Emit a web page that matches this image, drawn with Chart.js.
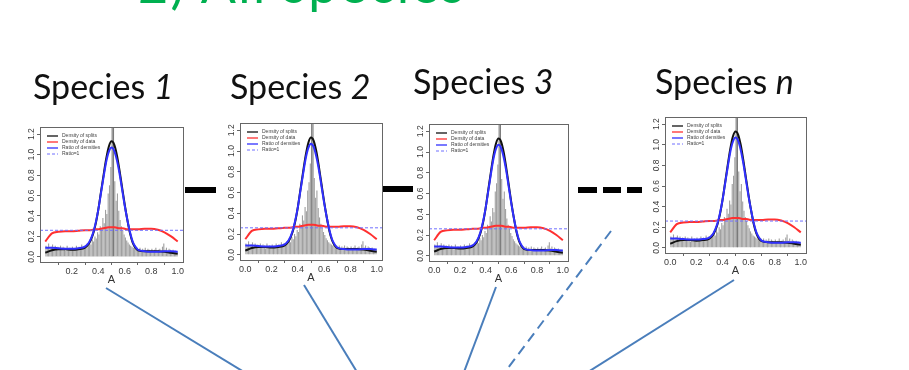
<!DOCTYPE html>
<html><head><meta charset="utf-8">
<script src="https://cdn.jsdelivr.net/npm/chart.js@4.4.1/dist/chart.umd.min.js"></script>
<style>
html,body{margin:0;padding:0;background:#fff;}
#slide{position:relative;width:909px;height:370px;overflow:hidden;background:#fff;}
canvas{position:absolute;}
svg{position:absolute;left:0;top:0;}
</style></head>
<body>
<div id="slide">
<svg id="deco" width="909" height="370" xmlns="http://www.w3.org/2000/svg">
  <text x="138" y="3" font-family="Lato, 'Open Sans', sans-serif" font-size="52" fill="#00B050" textLength="326" lengthAdjust="spacing">2) All species</text>
  <g font-family="Lato, 'Open Sans', sans-serif" font-size="34" fill="#111">
    <text x="33" y="99">Species <tspan font-style="italic">1</tspan></text>
    <text x="230" y="99">Species <tspan font-style="italic">2</tspan></text>
    <text x="413" y="94">Species <tspan font-style="italic">3</tspan></text>
    <text x="655" y="94">Species <tspan font-style="italic">n</tspan></text>
  </g>
  <g fill="#000">
    <rect x="185" y="187" width="31" height="6"/>
    <rect x="383" y="186" width="30" height="6"/>
    <rect x="578" y="187" width="19" height="6"/>
    <rect x="603" y="187" width="18" height="6"/>
    <rect x="627" y="187" width="15" height="6"/>
  </g>
  <g stroke="#4A7EBB" stroke-width="2" fill="none">
    <line x1="106" y1="288" x2="244" y2="372"/>
    <line x1="304" y1="285" x2="357" y2="372"/>
    <line x1="496" y1="287" x2="464" y2="372"/>
    <line x1="611" y1="231" x2="505" y2="372" stroke-dasharray="10 6"/>
    <line x1="734" y1="280" x2="588" y2="372"/>
  </g>
</svg>
</div>
<script>
// ---- data ----
const xTicks = [0, 0.2, 0.4, 0.6, 0.8, 1.0];
const yTicks = [0, 0.2, 0.4, 0.6, 0.8, 1.0, 1.2];
const histCounts = [
  0.11,0.09,0.13,0.08,0.10,0.12,0.07,0.11,0.09,0.10,
  0.08,0.11,0.07,0.10,0.09,0.06,0.11,0.08,0.09,0.07,
  0.10,0.08,0.09,0.11,0.07,0.10,0.08,0.12,0.09,0.11,
  0.10,0.13,0.11,0.14,0.12,0.17,0.15,0.20,0.18,0.24,
  0.22,0.30,0.27,0.38,0.33,0.46,0.42,0.62,0.70,0.88,
  1.60,1.45,0.74,0.55,0.62,0.45,0.36,0.30,0.26,0.22,
  0.19,0.16,0.14,0.12,0.11,0.10,0.09,0.10,0.08,0.09,
  0.07,0.09,0.06,0.08,0.07,0.09,0.06,0.08,0.07,0.06,
  0.08,0.06,0.07,0.09,0.06,0.07,0.08,0.06,0.10,0.13,
  0.07,0.09,0.06,0.08,0.07,0.06,0.07,0.05,0.06,0.05
];
const lineX = [0,0.05,0.1,0.15,0.2,0.25,0.3,0.33,0.36,0.38,0.40,0.42,0.44,0.46,0.48,0.50,0.52,0.54,0.56,0.58,0.60,0.62,0.64,0.66,0.68,0.70,0.75,0.8,0.85,0.9,0.95,1.0];
const densitySplits = [0.04,0.065,0.075,0.075,0.07,0.075,0.09,0.13,0.22,0.32,0.46,0.63,0.80,0.96,1.08,1.13,1.10,1.00,0.85,0.68,0.51,0.36,0.23,0.14,0.09,0.065,0.055,0.055,0.055,0.05,0.04,0.03];
const densityData   = [0.15,0.23,0.245,0.25,0.25,0.255,0.26,0.26,0.265,0.27,0.27,0.275,0.28,0.285,0.29,0.29,0.29,0.285,0.28,0.28,0.275,0.27,0.27,0.27,0.27,0.27,0.275,0.275,0.265,0.24,0.20,0.15];
const ratioDensities= [0.09,0.09,0.085,0.08,0.08,0.085,0.10,0.14,0.23,0.33,0.46,0.62,0.78,0.93,1.03,1.07,1.04,0.95,0.82,0.66,0.50,0.36,0.24,0.15,0.10,0.07,0.055,0.05,0.05,0.055,0.055,0.05];
const ratioOne = 0.26;
const legendLabels = ['Density of splits', 'Density of data', 'Ratio of densities', 'Ratio=1'];

// ---- layout (plot boxes) ----
const X_MIN = -0.04, X_MAX = 1.04, Y_MIN = -0.05, Y_MAX = 1.27;
const Y_AXIS_W = 15, X_AXIS_H = 25, PAD_T = 3, PAD_R = 3;
const FONT = '"Liberation Sans", Arial, sans-serif';
const panels = [
  {box: [40, 127, 143, 135], hideZero: true},
  {box: [240, 123, 142, 137], hideZero: false},
  {box: [429, 124, 139, 137], hideZero: false},
  {box: [665, 117, 141, 136], hideZero: false}
];

const rStyle = {
  id: 'rStyle',
  afterDatasetsDraw(chart) {
    const ctx = chart.ctx, a = chart.chartArea;
    ctx.save();
    ctx.strokeStyle = '#666';
    ctx.lineWidth = 1;
    ctx.strokeRect(Math.round(a.left) + 0.5, Math.round(a.top) + 0.5, Math.round(a.right - a.left), Math.round(a.bottom - a.top));
    // y tick labels, rotated like R
    const ys = chart.scales.y;
    ctx.fillStyle = '#3a3a3a';
    ctx.font = '8.5px ' + FONT;
    ctx.textAlign = 'center';
    ctx.textBaseline = 'middle';
    yTicks.forEach(v => {
      const py = ys.getPixelForValue(v);
      ctx.save();
      ctx.translate(a.left - 8.5, py);
      ctx.rotate(-Math.PI / 2);
      ctx.fillText(v.toFixed(1), 0, 0);
      ctx.restore();
    });
    // legend (top-left inside the box)
    ctx.font = '5px ' + FONT;
    ctx.textAlign = 'left';
    const items = chart.data.datasets.filter(d => d.label);
    items.sort((p, q) => legendLabels.indexOf(p.label) - legendLabels.indexOf(q.label));
    items.forEach((d, i) => {
      const y = a.top + 9 + i * 6;
      ctx.beginPath();
      ctx.strokeStyle = d.borderColor;
      ctx.lineWidth = d.borderDash ? 1 : 1.3;
      ctx.setLineDash(d.borderDash || []);
      ctx.moveTo(a.left + 7, y);
      ctx.lineTo(a.left + 18, y);
      ctx.stroke();
      ctx.setLineDash([]);
      ctx.fillStyle = '#444';
      ctx.fillText(d.label, a.left + 22, y);
    });
    ctx.restore();
  }
};

function toXY(xs, ys) { return xs.map((x, i) => ({x: x, y: ys[i]})); }

panels.forEach((p, idx) => {
  const [bx, by, bw, bh] = p.box;
  const cv = document.createElement('canvas');
  const W = Y_AXIS_W + bw + PAD_R, H = PAD_T + bh + X_AXIS_H;
  cv.width = W; cv.height = H;
  cv.style.left = (bx - Y_AXIS_W) + 'px';
  cv.style.top = (by - PAD_T) + 'px';
  cv.style.width = W + 'px'; cv.style.height = H + 'px';
  document.getElementById('slide').insertBefore(cv, document.getElementById('deco'));

  new Chart(cv, {
    type: 'bar',
    data: {
      datasets: [
        {type: 'line', label: legendLabels[3], data: [{x: X_MIN, y: ratioOne}, {x: X_MAX, y: ratioOne}],
         borderColor: '#6f6fff', borderWidth: 1, borderDash: [3, 2], pointRadius: 0, order: 0},
        {type: 'line', label: legendLabels[2], data: toXY(lineX, ratioDensities),
         borderColor: '#3030ff', borderWidth: 2, pointRadius: 0, cubicInterpolationMode: 'monotone', order: 1},
        {type: 'line', label: legendLabels[1], data: toXY(lineX, densityData),
         borderColor: '#ff3030', borderWidth: 2, pointRadius: 0, cubicInterpolationMode: 'monotone', order: 2},
        {type: 'line', label: legendLabels[0], data: toXY(lineX, densitySplits),
         borderColor: '#111111', borderWidth: 2, pointRadius: 0, cubicInterpolationMode: 'monotone', order: 3},
        {type: 'bar', data: histCounts.map((c, i) => ({x: (i + 0.5) / histCounts.length, y: c})),
         backgroundColor: c => (c.raw && c.raw.y > Y_MAX) ? '#7a7a7a' : '#a0a0a0',
         borderWidth: 0, barPercentage: 1, categoryPercentage: 0.85, order: 10}
      ]
    },
    options: {
      responsive: false,
      animation: false,
      devicePixelRatio: 1,
      layout: {padding: {left: 0, top: PAD_T, right: PAD_R, bottom: 0}},
      plugins: {legend: {display: false}, tooltip: {enabled: false}},
      scales: {
        x: {
          type: 'linear', min: X_MIN, max: X_MAX, offset: false,
          afterBuildTicks: s => { s.ticks = xTicks.map(v => ({value: v})); },
          afterFit: s => { s.height = X_AXIS_H; s.paddingLeft = 0; s.paddingRight = 0; },
          ticks: {font: {size: 9, family: FONT}, color: '#3a3a3a', padding: 1,
                  maxRotation: 0, autoSkip: false,
                  callback: v => (p.hideZero && v === 0) ? '' : v.toFixed(1)},
          grid: {drawOnChartArea: false, tickLength: 3, color: '#666'},
          border: {display: false},
          title: {display: true, text: 'A', font: {size: 11, family: FONT},
                  color: '#333', padding: {top: 0, bottom: 0}}
        },
        y: {
          type: 'linear', min: Y_MIN, max: Y_MAX,
          afterBuildTicks: s => { s.ticks = yTicks.map(v => ({value: v})); },
          afterFit: s => { s.width = Y_AXIS_W; s.paddingTop = 0; s.paddingBottom = 0; },
          ticks: {display: false},
          grid: {drawOnChartArea: false, tickLength: 3, color: '#666'},
          border: {display: false}
        }
      }
    },
    plugins: [rStyle]
  });
});
</script>
</body></html>
